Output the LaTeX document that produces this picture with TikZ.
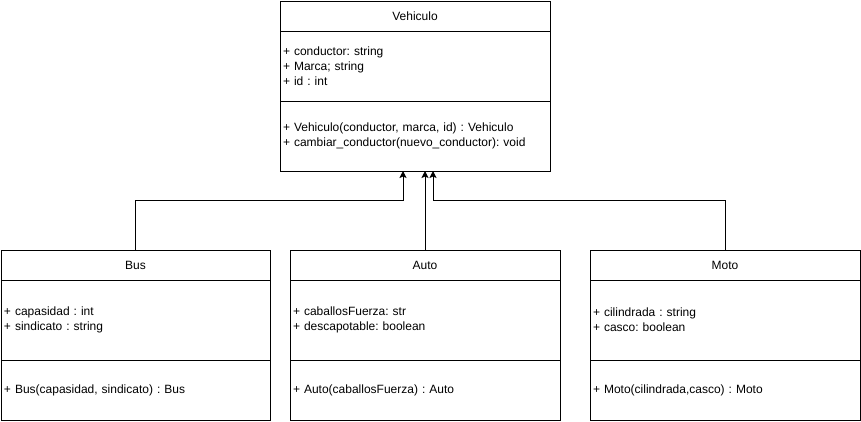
\documentclass[tikz,border=0pt]{standalone}
\usepackage{fontspec}
\setmainfont{Liberation Sans}
\usepackage{tikz}
\usetikzlibrary{arrows.meta}
\frenchspacing

\begin{document}
\begin{tikzpicture}[x=1pt, y=-1pt, line width=1pt,
		head_style/.style={rectangle,draw=black,fill=white,minimum width=270pt,minimum height=30pt,inner sep=0pt,outer sep=0pt,font=\fontsize{12}{14.8}\selectfont},
		part_style/.style={rectangle,draw=black,fill=white,text width=264pt,inner xsep=3pt,inner ysep=0pt,outer sep=0pt,align=left,font=\fontsize{12}{14.8}\selectfont},
		edge_style/.style={draw=black,-{Stealth[length=7pt,width=7pt,inset=1.5pt]}}]
		
		\useasboundingbox (0,0) rectangle (861,421);
		
		\node[head_style] (veh) at (415,16)  {Vehiculo};
		\node[part_style,minimum height=70pt] (veh_a) at (415,66)  {+ conductor: string\\+ Marca; string\\+ id : int};
		\node[part_style,minimum height=70pt] (veh_m) at (415,136)  {+ Vehiculo(conductor, marca, id) : Vehiculo\\+ cambiar\_conductor(nuevo\_conductor): void};
		
		\node[head_style,minimum width=269pt] (bus) at (135.5,265)  {Bus};
		\node[part_style,minimum height=80pt,text width=263pt] (bus_a) at (135.5,320)  {+ capasidad : int\\+ sindicato : string};
		\node[part_style,minimum height=60pt,text width=263pt] (bus_m) at (135.5,390)  {+ Bus(capasidad, sindicato) : Bus};
		
		\node[head_style] (auto) at (425,265)  {Auto};
		\node[part_style,minimum height=80pt] (auto_a) at (425,320)  {+ caballosFuerza: str\\+ descapotable: boolean};
		\node[part_style,minimum height=60pt] (auto_m) at (425,390)  {+ Auto(caballosFuerza) : Auto};
		
		\node[head_style] (moto) at (725,265)  {Moto};
		\node[part_style,minimum height=80pt] (moto_a) at (725,320)  {+ cilindrada : string\\+ casco: boolean};
		\node[part_style,minimum height=60pt] (moto_m) at (725,390)  {+ Moto(cilindrada,casco) : Moto};
		
		\draw[edge_style]  (bus.north) -- ++(0,-50) -| ([xshift=-12pt]veh_m.south);
		\draw[edge_style]  (auto.north) -- ([xshift=10pt]veh_m.south);
		\draw[edge_style]  (moto.north) -- ++(0,-50) -| ([xshift=18pt]veh_m.south);
		
		\end{tikzpicture}
\end{document}
